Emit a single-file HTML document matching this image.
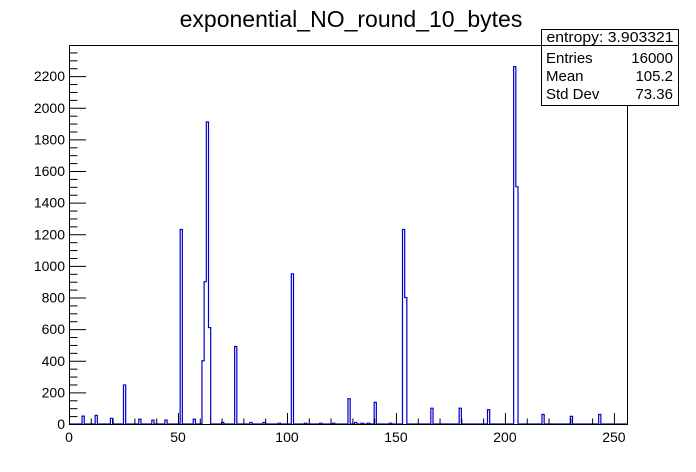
<!DOCTYPE html>
<html><head><meta charset="utf-8"><style>
html,body{margin:0;padding:0;background:#fff;}
svg{display:block;font-family:"Liberation Sans",sans-serif;}
</style></head><body>
<svg id="c" width="696" height="472" viewBox="0 0 696 472" xmlns="http://www.w3.org/2000/svg">
<rect width="696" height="472" fill="#fff"/>
<text x="351" y="27" font-size="23" text-anchor="middle">exponential_NO_round_10_bytes</text>
<g id="plot"></g>
<g>
<rect x="541.5" y="29.5" width="137" height="76" fill="#fff" stroke="#000"/>
<line x1="541.5" y1="45.5" x2="678.5" y2="45.5" stroke="#000"/>
<text x="610" y="42" font-size="15" text-anchor="middle" textLength="127" lengthAdjust="spacingAndGlyphs">entropy: 3.903321</text>
<text x="546" y="63" font-size="15">Entries</text><text x="673" y="63" font-size="15" text-anchor="end">16000</text>
<text x="546" y="81" font-size="15">Mean</text><text x="673" y="81" font-size="15" text-anchor="end">105.2</text>
<text x="546" y="99" font-size="15">Std Dev</text><text x="673" y="99" font-size="15" text-anchor="end">73.36</text>
</g>
</svg>
<script>
const binIndex=[6,12,19,25,32,38,44,51,57,61,62,63,64,70,76,83,89,96,102,108,115,121,128,131,134,137,140,147,153,154,166,179,192,204,205,217,230,243];
const binCount=[50,55,36,247,30,25,25,1230,30,400,900,1910,610,10,490,10,10,5,950,5,5,5,160,10,5,5,137,5,1230,800,100,100,90,2260,1500,60,48,60];
const xTicks=[0,50,100,150,200,250];
const yTicks=[0,200,400,600,800,1000,1200,1400,1600,1800,2000,2200];
const X0=69,X1=627,Y0=424,Y1=45,XMAX=256,YMAX=2397;
const sx=v=>X0+(v/XMAX)*(X1-X0);
const sy=v=>Y0-(v/YMAX)*(Y0-Y1);
const NS="http://www.w3.org/2000/svg";
const g=document.getElementById('plot');
function mk(t,a){const e=document.createElementNS(NS,t);for(const k in a)e.setAttribute(k,a[k]);g.appendChild(e);return e;}
const counts=new Array(256).fill(0);
binIndex.forEach((b,i)=>counts[b]=binCount[i]);
let d=`M${sx(0)},${sy(0)}`;
for(let i=0;i<256;i++){d+=` L${sx(i)},${sy(counts[i])} L${sx(i+1)},${sy(counts[i])}`;}
d+=` L${sx(256)},${sy(0)}`;
const p=mk('path',{d:d,fill:'none',stroke:'#0000cc','stroke-width':1.2});


const fr=mk('rect',{x:X0+0.5,y:Y1+0.5,width:X1-X0,height:Y0-Y1,fill:'none',stroke:'#000'});


for(let v=0;v<=XMAX;v+=10){const x=sx(v)+0.5;const L=(v%50===0)?11:5.5;
const t=mk('line',{x1:x,y1:Y0,x2:x,y2:Y0-L,stroke:'#000'});

}
xTicks.forEach(v=>{const t=mk('text',{x:sx(v),y:Y0+18,'font-size':14,'text-anchor':'middle'});t.textContent=v;

});
for(let v=0;v<=YMAX;v+=50){const y=sy(v)+0.5;const L=(v%200===0)?17:8.5;
const t=mk('line',{x1:X0,y1:y,x2:X0+L,y2:y,stroke:'#000'});

}
yTicks.forEach(v=>{const t=mk('text',{x:X0-4,y:sy(v)+5,'font-size':14,'text-anchor':'end'});t.textContent=v;

});
</script>
</body></html>
